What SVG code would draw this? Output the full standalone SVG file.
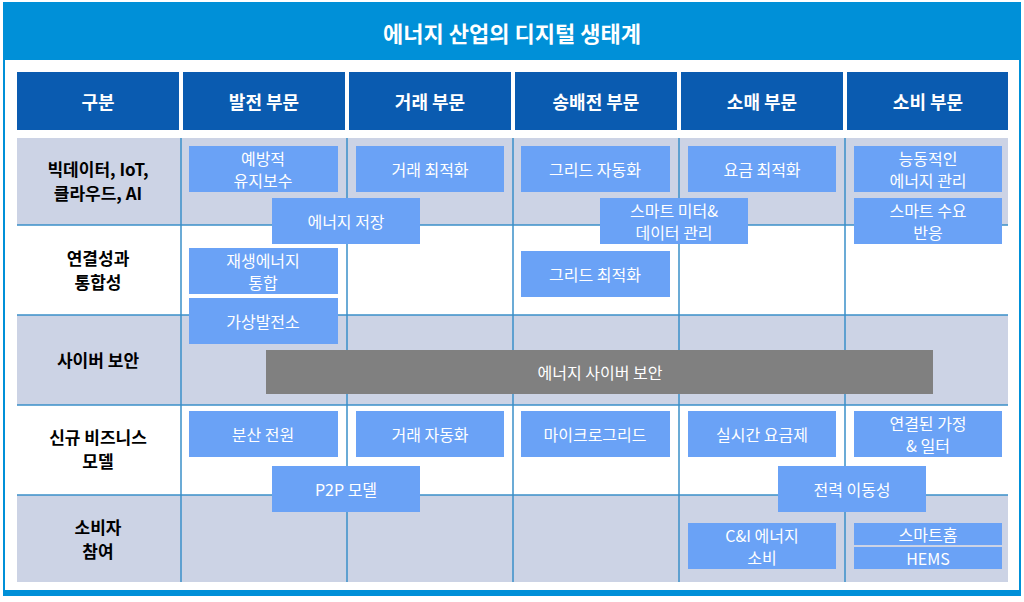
<svg xmlns="http://www.w3.org/2000/svg" width="1024" height="602" viewBox="0 0 1024 602">
<style>
text{font-family:"Noto Sans CJK KR","Liberation Sans",sans-serif;text-anchor:middle;dominant-baseline:central}
.h{fill:#0a5bb0}.ht{fill:#fff;font-size:18px;font-weight:bold}
.rl{fill:#000;font-size:17px;font-weight:bold}
.b{fill:#6aa2f6}.bt{fill:#fff;font-size:16px}
.g{fill:#ccd3e5}
.ln{stroke:#3a8fc8;stroke-width:1.5}
</style>
<rect x="0" y="0" width="1024" height="602" fill="#fff"/>
<rect x="4" y="3" width="1016" height="592" fill="none" stroke="#0090d8" stroke-width="2"/>
<rect x="4" y="3" width="1016" height="57" fill="#0090d8"/>
<text x="512" y="32" fill="#fff" font-size="22" font-weight="bold">에너지 산업의 디지털 생태계</text>
<rect x="4" y="590" width="1016" height="6" fill="#0090d8"/>
<g id="header">
<rect class="h" x="17" y="72" width="162" height="58"/><text class="ht" x="98" y="101">구분</text>
<rect class="h" x="183" y="72" width="162" height="58"/><text class="ht" x="264" y="101">발전 부문</text>
<rect class="h" x="349" y="72" width="162" height="58"/><text class="ht" x="430" y="101">거래 부문</text>
<rect class="h" x="515" y="72" width="162" height="58"/><text class="ht" x="596" y="101">송배전 부문</text>
<rect class="h" x="681" y="72" width="162" height="58"/><text class="ht" x="762" y="101">소매 부문</text>
<rect class="h" x="847" y="72" width="161" height="58"/><text class="ht" x="928" y="101">소비 부문</text>
</g>
<g id="grid">
<rect class="g" x="17" y="138" width="991" height="87"/>
<rect class="g" x="17" y="315" width="991" height="90"/>
<rect class="g" x="17" y="495" width="991" height="87"/>
<line class="ln" x1="17" y1="225" x2="1008" y2="225"/>
<line class="ln" x1="17" y1="315" x2="1008" y2="315"/>
<line class="ln" x1="17" y1="405" x2="1008" y2="405"/>
<line class="ln" x1="17" y1="495" x2="1008" y2="495"/>
<line class="ln" x1="181" y1="138" x2="181" y2="582"/>
<line class="ln" x1="347" y1="138" x2="347" y2="582"/>
<line class="ln" x1="513" y1="138" x2="513" y2="582"/>
<line class="ln" x1="679" y1="138" x2="679" y2="582"/>
<line class="ln" x1="845" y1="138" x2="845" y2="582"/>
</g>
<g id="rows">
<text class="rl" x="98" y="168">빅데이터, IoT,</text><text class="rl" x="98" y="192">클라우드, AI</text>
<text class="rl" x="98" y="257">연결성과</text><text class="rl" x="98" y="281">통합성</text>
<text class="rl" x="98" y="359">사이버 보안</text>
<text class="rl" x="98" y="436">신규 비즈니스</text><text class="rl" x="98" y="460">모델</text>
<text class="rl" x="98" y="526">소비자</text><text class="rl" x="98" y="550">참여</text>
</g>
<g id="n1"><rect class="b" x="189" y="146" width="149" height="46"/><text class="bt" x="263" y="158">예방적</text><text class="bt" x="263" y="180">유지보수</text></g>
<g id="n2"><rect class="b" x="356" y="146" width="148" height="46"/><text class="bt" x="430" y="169">거래 최적화</text></g>
<g id="n3"><rect class="b" x="521" y="146" width="149" height="46"/><text class="bt" x="595" y="169">그리드 자동화</text></g>
<g id="n4"><rect class="b" x="688" y="146" width="148" height="46"/><text class="bt" x="762" y="169">요금 최적화</text></g>
<g id="n5"><rect class="b" x="854" y="146" width="148" height="46"/><text class="bt" x="928" y="158">능동적인</text><text class="bt" x="928" y="180">에너지 관리</text></g>
<g id="n6"><rect class="b" x="272" y="198" width="148" height="46"/><text class="bt" x="346" y="221">에너지 저장</text></g>
<g id="n7"><rect class="b" x="600" y="198" width="148" height="46"/><text class="bt" x="674" y="210">스마트 미터&amp;</text><text class="bt" x="674" y="232">데이터 관리</text></g>
<g id="n8"><rect class="b" x="854" y="198" width="148" height="46"/><text class="bt" x="928" y="210">스마트 수요</text><text class="bt" x="928" y="232">반응</text></g>
<g id="n9"><rect class="b" x="189" y="248" width="149" height="46"/><text class="bt" x="263" y="260">재생에너지</text><text class="bt" x="263" y="282">통합</text></g>
<g id="n10"><rect class="b" x="521" y="251" width="149" height="46"/><text class="bt" x="595" y="274">그리드 최적화</text></g>
<g id="n11"><rect class="b" x="189" y="298" width="149" height="46"/><text class="bt" x="263" y="321">가상발전소</text></g>
<g id="n12"><rect x="266" y="350" width="667" height="44" fill="#808080"/><text class="bt" x="600" y="372">에너지 사이버 보안</text></g>
<g id="n13"><rect class="b" x="189" y="411" width="149" height="46"/><text class="bt" x="263" y="434">분산 전원</text></g>
<g id="n14"><rect class="b" x="356" y="411" width="148" height="46"/><text class="bt" x="430" y="434">거래 자동화</text></g>
<g id="n15"><rect class="b" x="521" y="411" width="149" height="46"/><text class="bt" x="595" y="434">마이크로그리드</text></g>
<g id="n16"><rect class="b" x="688" y="411" width="148" height="46"/><text class="bt" x="762" y="434">실시간 요금제</text></g>
<g id="n17"><rect class="b" x="854" y="411" width="148" height="46"/><text class="bt" x="928" y="423">연결된 가정</text><text class="bt" x="928" y="445">&amp; 일터</text></g>
<g id="n18"><rect class="b" x="272" y="466" width="148" height="46"/><text class="bt" x="346" y="489">P2P 모델</text></g>
<g id="n19"><rect class="b" x="778" y="466" width="148" height="46"/><text class="bt" x="852" y="489">전력 이동성</text></g>
<g id="n20"><rect class="b" x="688" y="523" width="148" height="46"/><text class="bt" x="762" y="535">C&amp;I 에너지</text><text class="bt" x="762" y="557">소비</text></g>
<g id="n21"><rect class="b" x="854" y="523" width="148" height="22"/><text class="bt" x="928" y="534">스마트홈</text></g>
<g id="n22"><rect class="b" x="854" y="547" width="148" height="22"/><text class="bt" x="928" y="558">HEMS</text></g>
<g id="connectors"/>
</svg>
